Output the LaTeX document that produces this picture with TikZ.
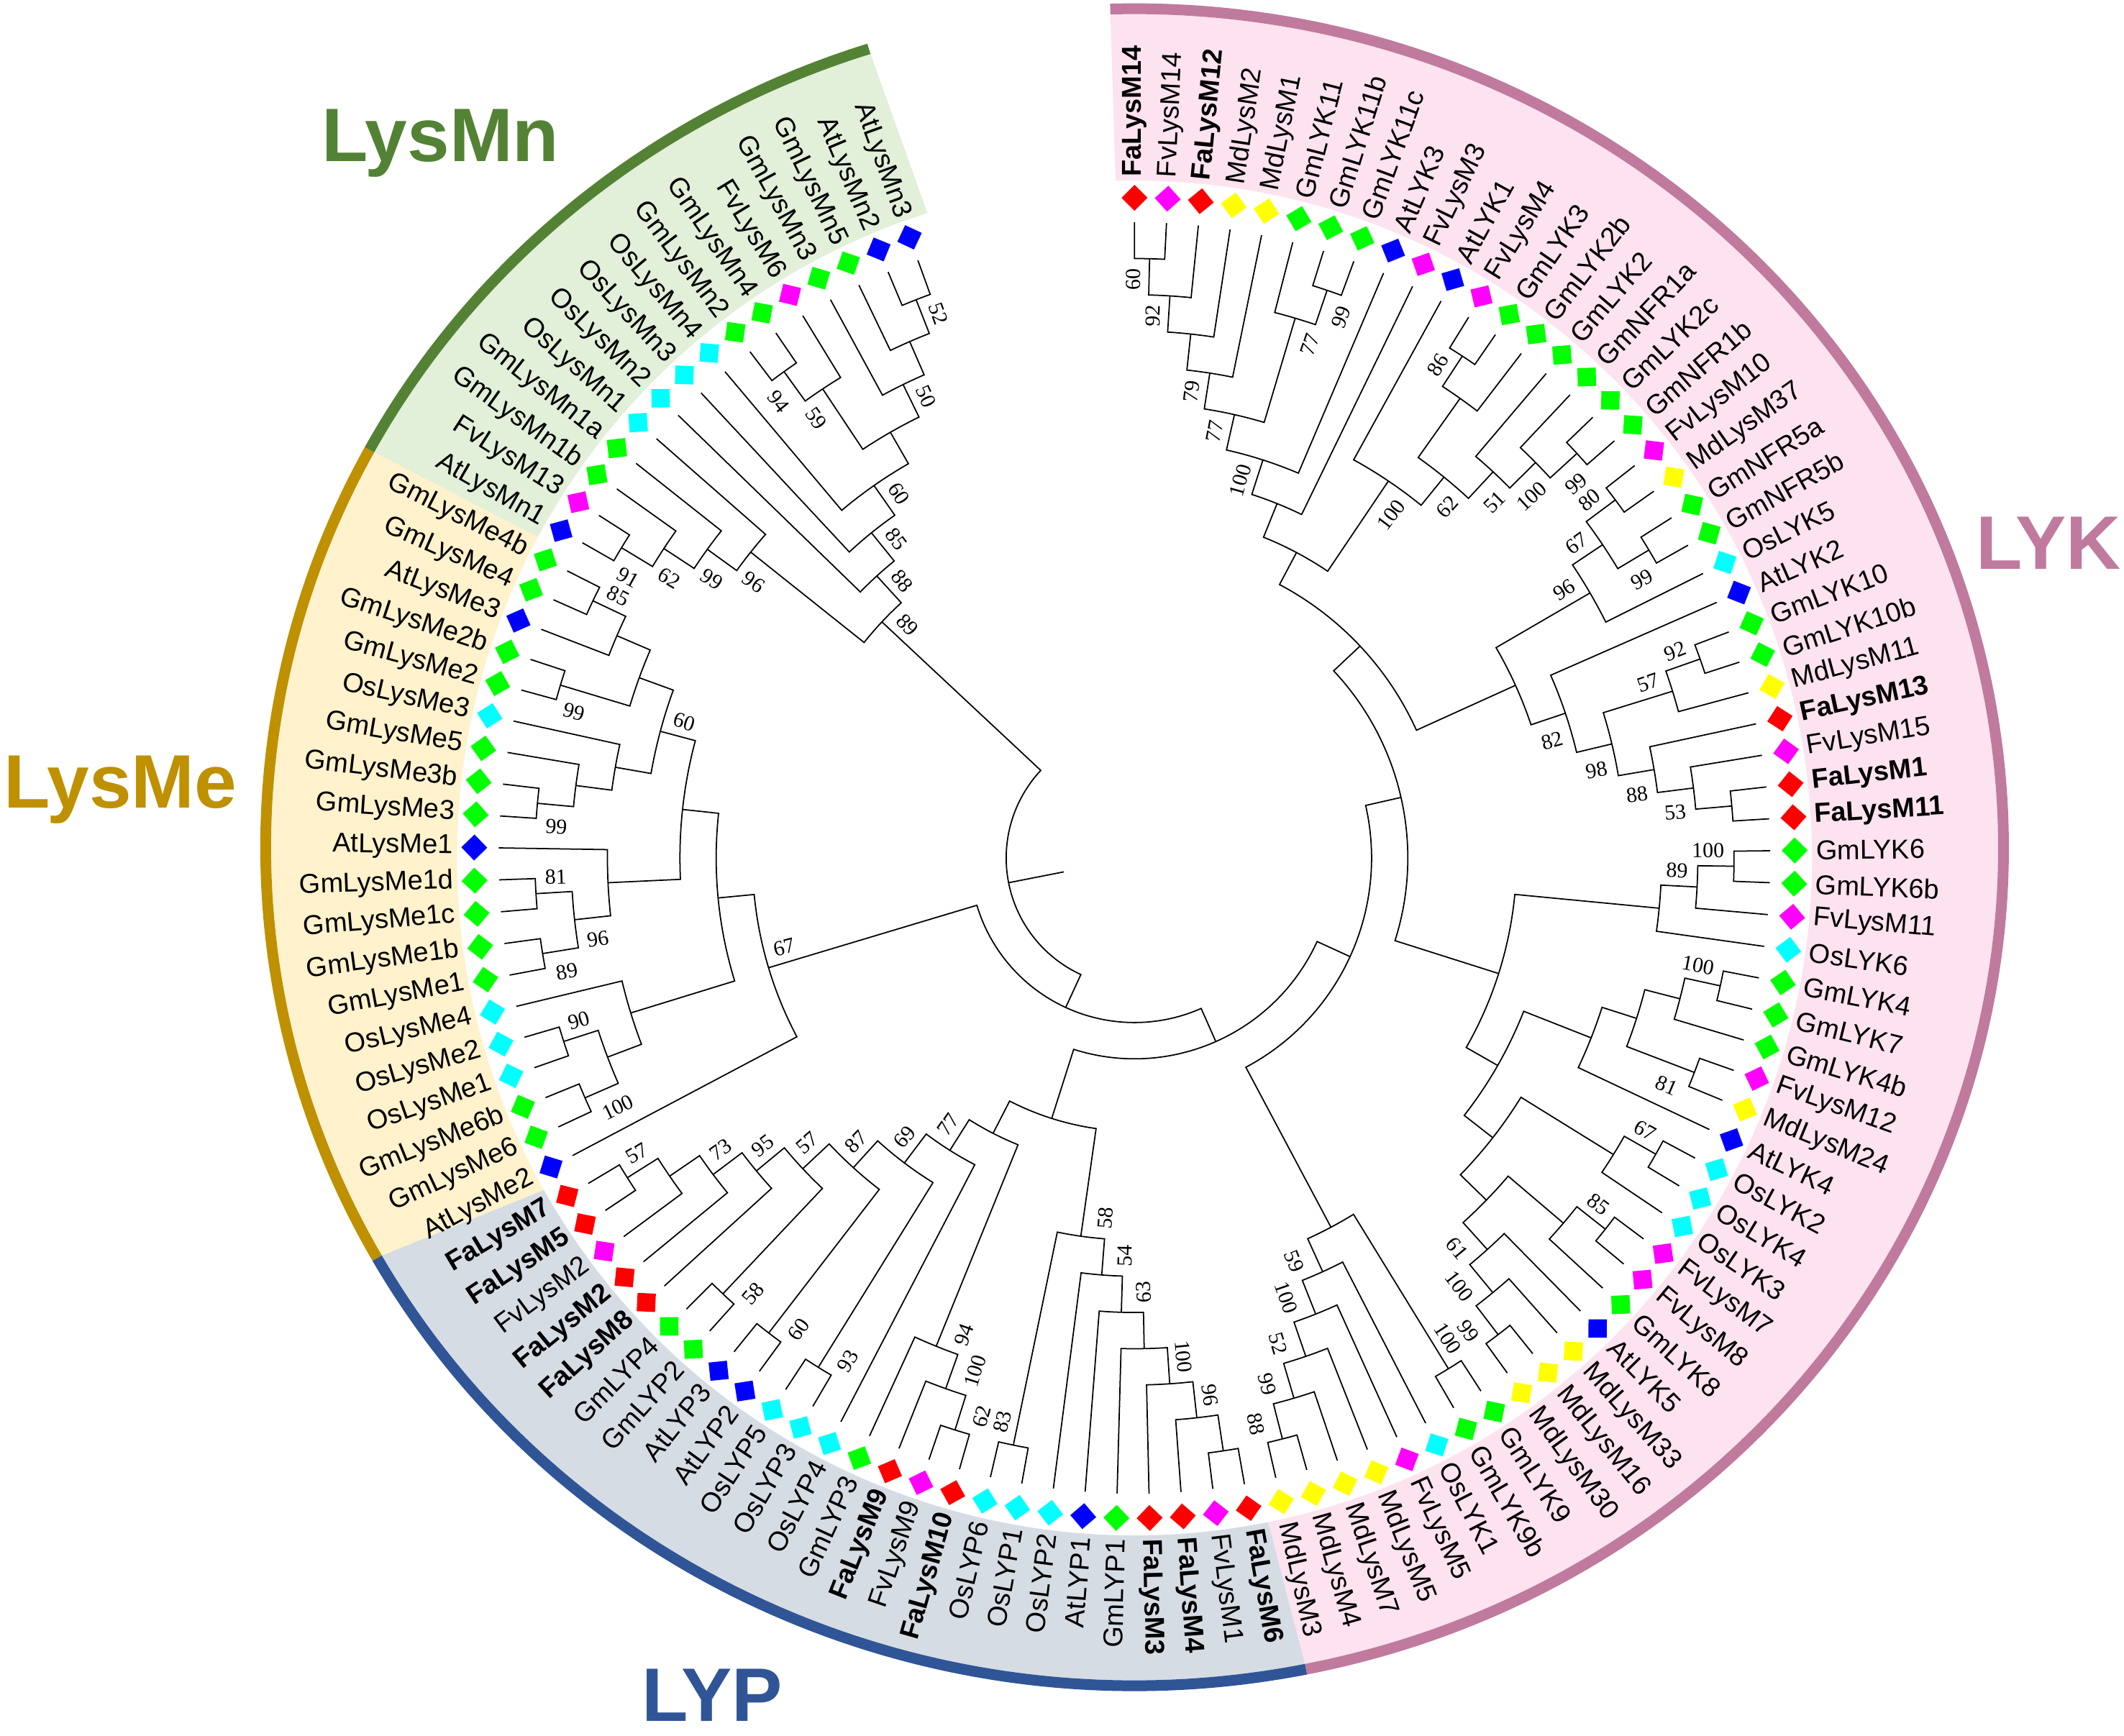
\documentclass[tikz,border=0pt]{standalone}
\usepackage{fontspec}
\setmainfont{Liberation Sans}
\newfontfamily\bootfont{Liberation Serif}

\definecolor{mnGreen}{HTML}{548235}
\definecolor{meGold}{HTML}{BF9000}
\definecolor{lypBlue}{HTML}{2F5597}
\definecolor{lykPink}{HTML}{C07A9E}
\definecolor{mnFill}{HTML}{E2EFD9}
\definecolor{meFill}{HTML}{FFF2CC}
\definecolor{lypFill}{HTML}{D6DCE4}
\definecolor{lykFill}{HTML}{FDE2F0}
% species marks
\definecolor{spFa}{RGB}{255,0,0}
\definecolor{spFv}{RGB}{255,0,255}
\definecolor{spMd}{RGB}{255,255,0}
\definecolor{spGm}{RGB}{0,255,0}
\definecolor{spAt}{RGB}{0,0,255}
\definecolor{spOs}{RGB}{0,255,255}

\tikzset{
  treeline/.style={line width=0.5pt},
  dmd/.style={inner sep=0pt, minimum size=0.255cm},
  leaftext/.style={inner sep=0pt, font=\fontsize{10.8}{13}\selectfont},
  boottext/.style={inner sep=0pt, font=\bootfont\fontsize{8.5}{10}\selectfont},
  grouptitle/.style={inner sep=0pt, font=\fontsize{30}{36}\selectfont\bfseries}
}

% leaf: index, name, colour, font
\newcommand{\leafnode}[4]{%
  \pgfmathsetmacro{\leafang}{109.92+2.882*#1}%
  \expandafter\xdef\csname ang@#2\endcsname{\leafang}%
  \expandafter\xdef\csname ht@#2\endcsname{0}%
  \expandafter\gdef\csname bs@#2\endcsname{}%
  \coordinate (#2) at (\leafang:8.84);
  \node[dmd, fill=#3, rotate=\leafang+45] (d#2) at (\leafang:9.18) {};
  \pgfmathtruncatemacro{\leafflip}{and(mod(\leafang,360)>90, mod(\leafang,360)<270)}%
  \ifnum\leafflip=1
    \node[leaftext, anchor=east, rotate=\leafang-180] (t#2) at (\leafang:9.47) {#4#2};
  \else
    \node[leaftext, anchor=west, rotate=\leafang] (t#2) at (\leafang:9.47) {#4#2};
  \fi
}

% bootstrap value of a node, side -1/+1
\newcommand{\bootlabel}[2]{%
  \edef\bootval{\csname bs@#1\endcsname}%
  \ifx\bootval\empty\else
    \pgfmathsetmacro{\bootA}{\csname ang@#1\endcsname}%
    \pgfmathsetmacro{\bootR}{8.84-0.504*\csname ht@#1\endcsname-0.13}%
    \pgfmathtruncatemacro{\bootF}{and(mod(\bootA,360)>90, mod(\bootA,360)<270)}%
    \pgfmathsetmacro{\bootO}{((#2)*(1-2*\bootF)>0) ? 0.22 : 0.31}%
    \pgfmathsetmacro{\bootT}{\bootA+(#2)*57.3*\bootO/\bootR}%
    \ifnum\bootF=1
      \node[boottext, anchor=west, rotate=\bootT-180] (b#1) at (\bootT:\bootR) {\bootval};
    \else
      \node[boottext, anchor=east, rotate=\bootT] (b#1) at (\bootT:\bootR) {\bootval};
    \fi
  \fi
}

% clade: name, first child, second child, bootstrap
\newcommand{\cladenode}[4]{%
  \pgfmathsetmacro{\cladeA}{\csname ang@#2\endcsname}%
  \pgfmathsetmacro{\cladeB}{\csname ang@#3\endcsname}%
  \pgfmathtruncatemacro{\cladeH}{max(\csname ht@#2\endcsname,\csname ht@#3\endcsname)+1}%
  \pgfmathsetmacro{\cladeM}{(\cladeA+\cladeB)/2}%
  \pgfmathsetmacro{\cladeR}{8.84-0.504*\cladeH}%
  \expandafter\xdef\csname ang@#1\endcsname{\cladeM}%
  \expandafter\xdef\csname ht@#1\endcsname{\cladeH}%
  \expandafter\gdef\csname bs@#1\endcsname{#4}%
  \coordinate (#1) at (\cladeM:\cladeR);
  \draw[treeline] (#2) -- (\cladeA:\cladeR) arc[start angle=\cladeA, end angle=\cladeB, radius=\cladeR] -- (#3);
  \bootlabel{#2}{-1}%
  \bootlabel{#3}{1}%
}

\begin{document}
\begin{tikzpicture}
\useasboundingbox (-15.773,-12.199) rectangle (13.757,11.931);

% coloured bands
\foreach \bandA/\bandB/\bandF/\bandL in {107.8/151.71/mnFill/mnGreen, 151.71/209.35/meFill/meGold, 209.35/281.39/lypFill/lypBlue, 281.39/451.6/lykFill/lykPink}{
  \fill[\bandF] (\bandA:9.42) -- ([shift={(0,0.15)}]\bandA:12.005 and 11.585) arc[start angle=\bandA, end angle=\bandB, x radius=12.005, y radius=11.585] -- (\bandB:9.42) arc[start angle=\bandB, end angle=\bandA, radius=9.42] -- cycle;
  \draw[\bandL, line width=0.15cm] ([shift={(0,0.15)}]\bandA:12.08 and 11.66) arc[start angle=\bandA, end angle=\bandB, x radius=12.08, y radius=11.66];
}

% group names
\node[grouptitle, text=mnGreen] (tLysMn) at (-9.65,9.94) {LysMn};
\node[grouptitle, text=meGold] (tLysMe) at (-14.10,0.95) {LysMe};
\node[grouptitle, text=lypBlue] (tLYP) at (-5.87,-11.64) {LYP};
\node[grouptitle, text=lykPink] (tLYK) at (12.71,4.38) {LYK};

% LysMn
\leafnode{0}{AtLysMn3}{spAt}{}
\leafnode{1}{AtLysMn2}{spAt}{}
\leafnode{2}{GmLysMn5}{spGm}{}
\leafnode{3}{GmLysMn3}{spGm}{}
\leafnode{4}{FvLysM6}{spFv}{}
\leafnode{5}{GmLysMn4}{spGm}{}
\leafnode{6}{GmLysMn2}{spGm}{}
\leafnode{7}{OsLysMn4}{spOs}{}
\leafnode{8}{OsLysMn3}{spOs}{}
\leafnode{9}{OsLysMn2}{spOs}{}
\leafnode{10}{OsLysMn1}{spOs}{}
\leafnode{11}{GmLysMn1a}{spGm}{}
\leafnode{12}{GmLysMn1b}{spGm}{}
\leafnode{13}{FvLysM13}{spFv}{}
\leafnode{14}{AtLysMn1}{spAt}{}
% LysMe
\leafnode{15}{GmLysMe4b}{spGm}{}
\leafnode{16}{GmLysMe4}{spGm}{}
\leafnode{17}{AtLysMe3}{spAt}{}
\leafnode{18}{GmLysMe2b}{spGm}{}
\leafnode{19}{GmLysMe2}{spGm}{}
\leafnode{20}{OsLysMe3}{spOs}{}
\leafnode{21}{GmLysMe5}{spGm}{}
\leafnode{22}{GmLysMe3b}{spGm}{}
\leafnode{23}{GmLysMe3}{spGm}{}
\leafnode{24}{AtLysMe1}{spAt}{}
\leafnode{25}{GmLysMe1d}{spGm}{}
\leafnode{26}{GmLysMe1c}{spGm}{}
\leafnode{27}{GmLysMe1b}{spGm}{}
\leafnode{28}{GmLysMe1}{spGm}{}
\leafnode{29}{OsLysMe4}{spOs}{}
\leafnode{30}{OsLysMe2}{spOs}{}
\leafnode{31}{OsLysMe1}{spOs}{}
\leafnode{32}{GmLysMe6b}{spGm}{}
\leafnode{33}{GmLysMe6}{spGm}{}
\leafnode{34}{AtLysMe2}{spAt}{}
% LYP
\leafnode{35}{FaLysM7}{spFa}{\bfseries}
\leafnode{36}{FaLysM5}{spFa}{\bfseries}
\leafnode{37}{FvLysM2}{spFv}{}
\leafnode{38}{FaLysM2}{spFa}{\bfseries}
\leafnode{39}{FaLysM8}{spFa}{\bfseries}
\leafnode{40}{GmLYP4}{spGm}{}
\leafnode{41}{GmLYP2}{spGm}{}
\leafnode{42}{AtLYP3}{spAt}{}
\leafnode{43}{AtLYP2}{spAt}{}
\leafnode{44}{OsLYP5}{spOs}{}
\leafnode{45}{OsLYP3}{spOs}{}
\leafnode{46}{OsLYP4}{spOs}{}
\leafnode{47}{GmLYP3}{spGm}{}
\leafnode{48}{FaLysM9}{spFa}{\bfseries}
\leafnode{49}{FvLysM9}{spFv}{}
\leafnode{50}{FaLysM10}{spFa}{\bfseries}
\leafnode{51}{OsLYP6}{spOs}{}
\leafnode{52}{OsLYP1}{spOs}{}
\leafnode{53}{OsLYP2}{spOs}{}
\leafnode{54}{AtLYP1}{spAt}{}
\leafnode{55}{GmLYP1}{spGm}{}
\leafnode{56}{FaLysM3}{spFa}{\bfseries}
\leafnode{57}{FaLysM4}{spFa}{\bfseries}
\leafnode{58}{FvLysM1}{spFv}{}
\leafnode{59}{FaLysM6}{spFa}{\bfseries}
% LYK
\leafnode{60}{MdLysM3}{spMd}{}
\leafnode{61}{MdLysM4}{spMd}{}
\leafnode{62}{MdLysM7}{spMd}{}
\leafnode{63}{MdLysM5}{spMd}{}
\leafnode{64}{FvLysM5}{spFv}{}
\leafnode{65}{OsLYK1}{spOs}{}
\leafnode{66}{GmLYK9b}{spGm}{}
\leafnode{67}{GmLYK9}{spGm}{}
\leafnode{68}{MdLysM30}{spMd}{}
\leafnode{69}{MdLysM16}{spMd}{}
\leafnode{70}{MdLysM33}{spMd}{}
\leafnode{71}{AtLYK5}{spAt}{}
\leafnode{72}{GmLYK8}{spGm}{}
\leafnode{73}{FvLysM8}{spFv}{}
\leafnode{74}{FvLysM7}{spFv}{}
\leafnode{75}{OsLYK3}{spOs}{}
\leafnode{76}{OsLYK4}{spOs}{}
\leafnode{77}{OsLYK2}{spOs}{}
\leafnode{78}{AtLYK4}{spAt}{}
\leafnode{79}{MdLysM24}{spMd}{}
\leafnode{80}{FvLysM12}{spFv}{}
\leafnode{81}{GmLYK4b}{spGm}{}
\leafnode{82}{GmLYK7}{spGm}{}
\leafnode{83}{GmLYK4}{spGm}{}
\leafnode{84}{OsLYK6}{spOs}{}
\leafnode{85}{FvLysM11}{spFv}{}
\leafnode{86}{GmLYK6b}{spGm}{}
\leafnode{87}{GmLYK6}{spGm}{}
\leafnode{88}{FaLysM11}{spFa}{\bfseries}
\leafnode{89}{FaLysM1}{spFa}{\bfseries}
\leafnode{90}{FvLysM15}{spFv}{}
\leafnode{91}{FaLysM13}{spFa}{\bfseries}
\leafnode{92}{MdLysM11}{spMd}{}
\leafnode{93}{GmLYK10b}{spGm}{}
\leafnode{94}{GmLYK10}{spGm}{}
\leafnode{95}{AtLYK2}{spAt}{}
\leafnode{96}{OsLYK5}{spOs}{}
\leafnode{97}{GmNFR5b}{spGm}{}
\leafnode{98}{GmNFR5a}{spGm}{}
\leafnode{99}{MdLysM37}{spMd}{}
\leafnode{100}{FvLysM10}{spFv}{}
\leafnode{101}{GmNFR1b}{spGm}{}
\leafnode{102}{GmLYK2c}{spGm}{}
\leafnode{103}{GmNFR1a}{spGm}{}
\leafnode{104}{GmLYK2}{spGm}{}
\leafnode{105}{GmLYK2b}{spGm}{}
\leafnode{106}{GmLYK3}{spGm}{}
\leafnode{107}{FvLysM4}{spFv}{}
\leafnode{108}{AtLYK1}{spAt}{}
\leafnode{109}{FvLysM3}{spFv}{}
\leafnode{110}{AtLYK3}{spAt}{}
\leafnode{111}{GmLYK11c}{spGm}{}
\leafnode{112}{GmLYK11b}{spGm}{}
\leafnode{113}{GmLYK11}{spGm}{}
\leafnode{114}{MdLysM1}{spMd}{}
\leafnode{115}{MdLysM2}{spMd}{}
\leafnode{116}{FaLysM12}{spFa}{\bfseries}
\leafnode{117}{FvLysM14}{spFv}{}
\leafnode{118}{FaLysM14}{spFa}{\bfseries}

% LysMn clades
\cladenode{nA}{AtLysMn3}{AtLysMn2}{52}
\cladenode{nB}{nA}{GmLysMn5}{}
\cladenode{nC}{nB}{GmLysMn3}{50}
\cladenode{nMn94}{GmLysMn4}{GmLysMn2}{94}
\cladenode{nMn59}{FvLysM6}{nMn94}{59}
\cladenode{nD}{nC}{nMn59}{}
\cladenode{nE}{nD}{OsLysMn4}{60}
\cladenode{nF}{nE}{OsLysMn3}{85}
\cladenode{nG}{nF}{OsLysMn2}{88}
\cladenode{nMn91}{FvLysM13}{AtLysMn1}{91}
\cladenode{nMn62}{GmLysMn1b}{nMn91}{62}
\cladenode{nMn99}{GmLysMn1a}{nMn62}{99}
\cladenode{nMn96}{OsLysMn1}{nMn99}{96}
\cladenode{nH}{nG}{nMn96}{89}

% LysMe clades
\cladenode{nEa}{GmLysMe4b}{GmLysMe4}{85}
\cladenode{nEb}{nEa}{AtLysMe3}{}
\cladenode{nEd}{GmLysMe2b}{GmLysMe2}{99}
\cladenode{nEc}{nEb}{nEd}{}
\cladenode{nEh}{GmLysMe3b}{GmLysMe3}{99}
\cladenode{nEg}{GmLysMe5}{nEh}{}
\cladenode{nEf}{OsLysMe3}{nEg}{}
\cladenode{nEe}{nEc}{nEf}{60}
\cladenode{nEp}{GmLysMe1d}{GmLysMe1c}{81}
\cladenode{nEq}{GmLysMe1b}{GmLysMe1}{89}
\cladenode{nEn}{nEp}{nEq}{96}
\cladenode{nEm}{AtLysMe1}{nEn}{}
\cladenode{nEk}{nEe}{nEm}{}
\cladenode{nEt}{OsLysMe2}{OsLysMe1}{90}
\cladenode{nEu}{GmLysMe6b}{GmLysMe6}{100}
\cladenode{nEs}{nEt}{nEu}{}
\cladenode{nEr}{OsLysMe4}{nEs}{}
\cladenode{nEK}{nEk}{nEr}{}
\cladenode{nL}{nEK}{AtLysMe2}{67}

% LYP clades
\cladenode{nP1}{FaLysM7}{FaLysM5}{57}
\cladenode{nP2}{nP1}{FvLysM2}{}
\cladenode{nP3}{nP2}{FaLysM2}{73}
\cladenode{nP4}{nP3}{FaLysM8}{95}
\cladenode{nQ1}{GmLYP4}{GmLYP2}{58}
\cladenode{nP5}{nP4}{nQ1}{57}
\cladenode{nQ2}{AtLYP3}{AtLYP2}{60}
\cladenode{nP6}{nP5}{nQ2}{87}
\cladenode{nQ3}{OsLYP5}{OsLYP3}{93}
\cladenode{nP7}{nP6}{nQ3}{69}
\cladenode{nP8}{nP7}{OsLYP4}{77}
\cladenode{nS1}{FvLysM9}{FaLysM10}{62}
\cladenode{nS2}{FaLysM9}{nS1}{100}
\cladenode{nS3}{GmLYP3}{nS2}{94}
\cladenode{nP9}{nP8}{nS3}{}
\cladenode{nR1}{OsLYP6}{OsLYP1}{83}
\cladenode{nN1}{FvLysM1}{FaLysM6}{}
\cladenode{nN2}{FaLysM4}{nN1}{96}
\cladenode{nN3}{FaLysM3}{nN2}{100}
\cladenode{nN4}{GmLYP1}{nN3}{}
\cladenode{nN5}{AtLYP1}{nN4}{63}
\cladenode{nN6}{OsLYP2}{nN5}{54}
\cladenode{nR}{nR1}{nN6}{58}
\cladenode{nP10}{nP9}{nR}{}

% LYK clades
\cladenode{nM1}{MdLysM3}{MdLysM4}{88}
\cladenode{nM2}{nM1}{MdLysM7}{99}
\cladenode{nM3}{nM2}{MdLysM5}{52}
\cladenode{nM4}{nM3}{FvLysM5}{100}
\cladenode{nM5}{nM4}{OsLYK1}{59}
\cladenode{nG9}{GmLYK9b}{GmLYK9}{100}
\cladenode{nK1}{nM5}{nG9}{}
\cladenode{nMM1}{MdLysM30}{MdLysM16}{99}
\cladenode{nMM2}{nMM1}{MdLysM33}{100}
\cladenode{nMM3}{nMM2}{AtLYK5}{61}
\cladenode{nFF1}{FvLysM8}{FvLysM7}{85}
\cladenode{nFF2}{GmLYK8}{nFF1}{}
\cladenode{nMM4}{nMM3}{nFF2}{}
\cladenode{nOO1}{OsLYK4}{OsLYK2}{67}
\cladenode{nOO}{OsLYK3}{nOO1}{}
\cladenode{nMM5}{nMM4}{nOO}{}
\cladenode{nAA0}{MdLysM24}{FvLysM12}{81}
\cladenode{nAA1}{GmLYK7}{GmLYK4}{100}
\cladenode{nAA2}{GmLYK4b}{nAA1}{}
\cladenode{nAA3}{nAA0}{nAA2}{}
\cladenode{nAA4}{AtLYK4}{nAA3}{}
\cladenode{nMM6}{nMM5}{nAA4}{}
\cladenode{nBB1}{GmLYK6b}{GmLYK6}{100}
\cladenode{nBB2}{FvLysM11}{nBB1}{89}
\cladenode{nBB3}{OsLYK6}{nBB2}{}
\cladenode{nCC}{nMM6}{nBB3}{}
\cladenode{nY7}{FaLysM11}{FaLysM1}{}
\cladenode{nY8}{nY7}{FvLysM15}{53}
\cladenode{nY9}{nY8}{FaLysM13}{88}
\cladenode{nY5}{GmLYK10b}{GmLYK10}{92}
\cladenode{nY6}{MdLysM11}{nY5}{57}
\cladenode{nY10}{nY9}{nY6}{98}
\cladenode{nY11}{nY10}{AtLYK2}{82}
\cladenode{nY1}{GmNFR5b}{GmNFR5a}{99}
\cladenode{nZ1}{MdLysM37}{FvLysM10}{80}
\cladenode{nY2}{nY1}{nZ1}{67}
\cladenode{nY3}{OsLYK5}{nY2}{96}
\cladenode{nY12}{nY11}{nY3}{}
\cladenode{nV1}{GmNFR1b}{GmLYK2c}{99}
\cladenode{nV2}{nV1}{GmNFR1a}{100}
\cladenode{nV3}{nV2}{GmLYK2}{51}
\cladenode{nW1}{GmLYK3}{FvLysM4}{86}
\cladenode{nW2}{GmLYK2b}{nW1}{}
\cladenode{nV4}{nV3}{nW2}{62}
\cladenode{nV}{nV4}{AtLYK1}{100}
\cladenode{nU1}{GmLYK11c}{GmLYK11b}{99}
\cladenode{nU2}{nU1}{GmLYK11}{77}
\cladenode{nT1}{FvLysM14}{FaLysM14}{60}
\cladenode{nT2}{FaLysM12}{nT1}{92}
\cladenode{nT3}{MdLysM2}{nT2}{}
\cladenode{nT4}{MdLysM1}{nT3}{79}
\cladenode{nT5}{nU2}{nT4}{77}
\cladenode{nT6}{AtLYK3}{nT5}{100}
\cladenode{nT7}{FvLysM3}{nT6}{}
\cladenode{nZZ}{nV}{nT7}{}
\cladenode{nZ}{nY12}{nZZ}{}
\cladenode{nK2}{nCC}{nZ}{}
\cladenode{nK}{nK1}{nK2}{}

% backbone and root
\cladenode{nW}{nP10}{nK}{}
\cladenode{nX}{nL}{nW}{}
\cladenode{nroot}{nH}{nX}{}
\pgfmathsetmacro{\rootang}{\csname ang@nroot\endcsname}
\coordinate (stub) at (\rootang:1.0);
\draw[treeline] (nroot) -- (stub);

\end{tikzpicture}
\end{document}
